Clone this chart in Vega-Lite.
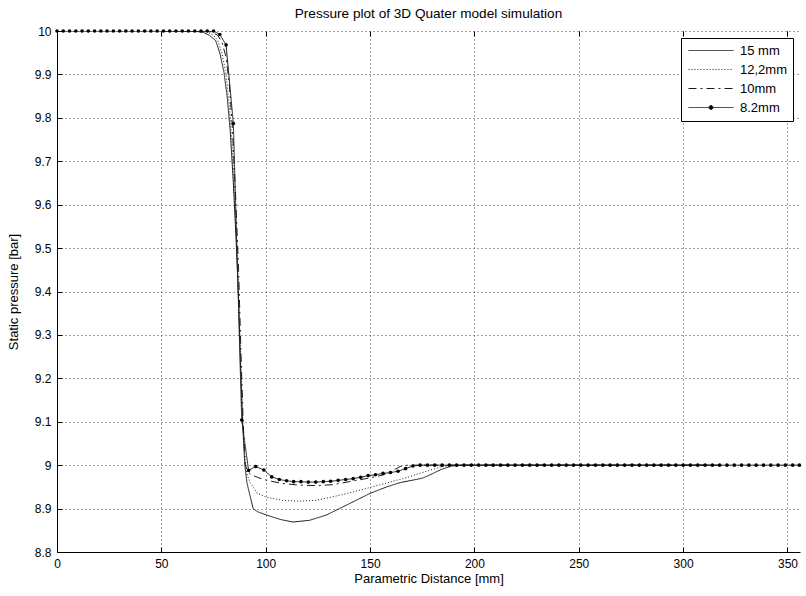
{
  "$schema": "https://vega.github.io/schema/vega-lite/v6.json",
  "autosize": {"type": "none"},
  "padding": {"left": 57, "top": 31, "right": 6, "bottom": 44},
  "width": 743,
  "height": 521,
  "background": "white",
  "title": {
    "text": "Pressure plot of 3D Quater model simulation",
    "fontSize": 13.6,
    "fontWeight": "normal",
    "font": "Liberation Sans",
    "color": "#000",
    "anchor": "middle",
    "offset": 4
  },
  "data": {
    "values": [
      {"series": "15 mm", "distance": 50, "pressure": 10},
      {"series": "15 mm", "distance": 65, "pressure": 10},
      {"series": "15 mm", "distance": 70, "pressure": 9.997},
      {"series": "15 mm", "distance": 73, "pressure": 9.99},
      {"series": "15 mm", "distance": 76, "pressure": 9.978},
      {"series": "15 mm", "distance": 78, "pressure": 9.95},
      {"series": "15 mm", "distance": 80, "pressure": 9.905},
      {"series": "15 mm", "distance": 81.5, "pressure": 9.85},
      {"series": "15 mm", "distance": 83, "pressure": 9.77},
      {"series": "15 mm", "distance": 84.5, "pressure": 9.65},
      {"series": "15 mm", "distance": 86, "pressure": 9.5},
      {"series": "15 mm", "distance": 87, "pressure": 9.38},
      {"series": "15 mm", "distance": 88, "pressure": 9.22},
      {"series": "15 mm", "distance": 89, "pressure": 9.09},
      {"series": "15 mm", "distance": 90, "pressure": 9.0},
      {"series": "15 mm", "distance": 91, "pressure": 8.96},
      {"series": "15 mm", "distance": 92.2, "pressure": 8.935},
      {"series": "15 mm", "distance": 94, "pressure": 8.9},
      {"series": "15 mm", "distance": 96, "pressure": 8.893},
      {"series": "15 mm", "distance": 100.5, "pressure": 8.885},
      {"series": "15 mm", "distance": 107, "pressure": 8.875},
      {"series": "15 mm", "distance": 113, "pressure": 8.869},
      {"series": "15 mm", "distance": 121, "pressure": 8.873},
      {"series": "15 mm", "distance": 129, "pressure": 8.885},
      {"series": "15 mm", "distance": 137, "pressure": 8.904},
      {"series": "15 mm", "distance": 145, "pressure": 8.923},
      {"series": "15 mm", "distance": 150, "pressure": 8.935},
      {"series": "15 mm", "distance": 158, "pressure": 8.95},
      {"series": "15 mm", "distance": 164.5, "pressure": 8.96},
      {"series": "15 mm", "distance": 171, "pressure": 8.966},
      {"series": "15 mm", "distance": 175, "pressure": 8.97},
      {"series": "15 mm", "distance": 178, "pressure": 8.976},
      {"series": "15 mm", "distance": 184, "pressure": 8.99},
      {"series": "15 mm", "distance": 189, "pressure": 8.998},
      {"series": "15 mm", "distance": 195, "pressure": 9.0},
      {"series": "15 mm", "distance": 317.5, "pressure": 9.0},

      {"series": "12,2mm", "distance": 50, "pressure": 10},
      {"series": "12,2mm", "distance": 68, "pressure": 10},
      {"series": "12,2mm", "distance": 72, "pressure": 9.998},
      {"series": "12,2mm", "distance": 75, "pressure": 9.99},
      {"series": "12,2mm", "distance": 77, "pressure": 9.978},
      {"series": "12,2mm", "distance": 79, "pressure": 9.95},
      {"series": "12,2mm", "distance": 81, "pressure": 9.9},
      {"series": "12,2mm", "distance": 82.5, "pressure": 9.83},
      {"series": "12,2mm", "distance": 84, "pressure": 9.73},
      {"series": "12,2mm", "distance": 85.5, "pressure": 9.58},
      {"series": "12,2mm", "distance": 86.8, "pressure": 9.42},
      {"series": "12,2mm", "distance": 88, "pressure": 9.24},
      {"series": "12,2mm", "distance": 89, "pressure": 9.1},
      {"series": "12,2mm", "distance": 90, "pressure": 9.02},
      {"series": "12,2mm", "distance": 91, "pressure": 8.98},
      {"series": "12,2mm", "distance": 92.5, "pressure": 8.96},
      {"series": "12,2mm", "distance": 96, "pressure": 8.935},
      {"series": "12,2mm", "distance": 100.5, "pressure": 8.926},
      {"series": "12,2mm", "distance": 108, "pressure": 8.919},
      {"series": "12,2mm", "distance": 116, "pressure": 8.917},
      {"series": "12,2mm", "distance": 124, "pressure": 8.919},
      {"series": "12,2mm", "distance": 132, "pressure": 8.927},
      {"series": "12,2mm", "distance": 140, "pressure": 8.936},
      {"series": "12,2mm", "distance": 148, "pressure": 8.946},
      {"series": "12,2mm", "distance": 158, "pressure": 8.959},
      {"series": "12,2mm", "distance": 168, "pressure": 8.972},
      {"series": "12,2mm", "distance": 177, "pressure": 8.986},
      {"series": "12,2mm", "distance": 184, "pressure": 8.996},
      {"series": "12,2mm", "distance": 190, "pressure": 9.0},
      {"series": "12,2mm", "distance": 317.5, "pressure": 9.0},

      {"series": "10mm", "distance": 50, "pressure": 10},
      {"series": "10mm", "distance": 70, "pressure": 10},
      {"series": "10mm", "distance": 74, "pressure": 9.998},
      {"series": "10mm", "distance": 77, "pressure": 9.99},
      {"series": "10mm", "distance": 79, "pressure": 9.975},
      {"series": "10mm", "distance": 81, "pressure": 9.94},
      {"series": "10mm", "distance": 82.5, "pressure": 9.88},
      {"series": "10mm", "distance": 84, "pressure": 9.78},
      {"series": "10mm", "distance": 85.5, "pressure": 9.63},
      {"series": "10mm", "distance": 87, "pressure": 9.45},
      {"series": "10mm", "distance": 88.2, "pressure": 9.25},
      {"series": "10mm", "distance": 89.2, "pressure": 9.1},
      {"series": "10mm", "distance": 90.2, "pressure": 9.0},
      {"series": "10mm", "distance": 91.5, "pressure": 8.985},
      {"series": "10mm", "distance": 93, "pressure": 8.978},
      {"series": "10mm", "distance": 96, "pressure": 8.972},
      {"series": "10mm", "distance": 100.5, "pressure": 8.965},
      {"series": "10mm", "distance": 108, "pressure": 8.958},
      {"series": "10mm", "distance": 116, "pressure": 8.954},
      {"series": "10mm", "distance": 124, "pressure": 8.953},
      {"series": "10mm", "distance": 132, "pressure": 8.955},
      {"series": "10mm", "distance": 140, "pressure": 8.962},
      {"series": "10mm", "distance": 148, "pressure": 8.969},
      {"series": "10mm", "distance": 156, "pressure": 8.977},
      {"series": "10mm", "distance": 161, "pressure": 8.988},
      {"series": "10mm", "distance": 164.5, "pressure": 8.997},
      {"series": "10mm", "distance": 168, "pressure": 9.0},
      {"series": "10mm", "distance": 317.5, "pressure": 9.0},

      {"series": "8.2mm", "distance": 0, "pressure": 10},
      {"series": "8.2mm", "distance": 3, "pressure": 10},
      {"series": "8.2mm", "distance": 6, "pressure": 10},
      {"series": "8.2mm", "distance": 9, "pressure": 10},
      {"series": "8.2mm", "distance": 12, "pressure": 10},
      {"series": "8.2mm", "distance": 15, "pressure": 10},
      {"series": "8.2mm", "distance": 18, "pressure": 10},
      {"series": "8.2mm", "distance": 21, "pressure": 10},
      {"series": "8.2mm", "distance": 24, "pressure": 10},
      {"series": "8.2mm", "distance": 27, "pressure": 10},
      {"series": "8.2mm", "distance": 30, "pressure": 10},
      {"series": "8.2mm", "distance": 33, "pressure": 10},
      {"series": "8.2mm", "distance": 36, "pressure": 10},
      {"series": "8.2mm", "distance": 39, "pressure": 10},
      {"series": "8.2mm", "distance": 42, "pressure": 10},
      {"series": "8.2mm", "distance": 45, "pressure": 10},
      {"series": "8.2mm", "distance": 48, "pressure": 10},
      {"series": "8.2mm", "distance": 51, "pressure": 10},
      {"series": "8.2mm", "distance": 54, "pressure": 10},
      {"series": "8.2mm", "distance": 57, "pressure": 10},
      {"series": "8.2mm", "distance": 60, "pressure": 10},
      {"series": "8.2mm", "distance": 63, "pressure": 10},
      {"series": "8.2mm", "distance": 66, "pressure": 10},
      {"series": "8.2mm", "distance": 69, "pressure": 10},
      {"series": "8.2mm", "distance": 72, "pressure": 10},
      {"series": "8.2mm", "distance": 75, "pressure": 10},
      {"series": "8.2mm", "distance": 78, "pressure": 9.992},
      {"series": "8.2mm", "distance": 81, "pressure": 9.968},
      {"series": "8.2mm", "distance": 84.5, "pressure": 9.787},
      {"series": "8.2mm", "distance": 88.5, "pressure": 9.104},
      {"series": "8.2mm", "distance": 91.8, "pressure": 8.988},
      {"series": "8.2mm", "distance": 95.2, "pressure": 8.997},
      {"series": "8.2mm", "distance": 99.1, "pressure": 8.989},
      {"series": "8.2mm", "distance": 102.9, "pressure": 8.973},
      {"series": "8.2mm", "distance": 106.5, "pressure": 8.967},
      {"series": "8.2mm", "distance": 110, "pressure": 8.964},
      {"series": "8.2mm", "distance": 113.4, "pressure": 8.962},
      {"series": "8.2mm", "distance": 116.9, "pressure": 8.962},
      {"series": "8.2mm", "distance": 120.4, "pressure": 8.961},
      {"series": "8.2mm", "distance": 124, "pressure": 8.961},
      {"series": "8.2mm", "distance": 127.6, "pressure": 8.962},
      {"series": "8.2mm", "distance": 131.1, "pressure": 8.963},
      {"series": "8.2mm", "distance": 134.7, "pressure": 8.965},
      {"series": "8.2mm", "distance": 138.3, "pressure": 8.967},
      {"series": "8.2mm", "distance": 141.9, "pressure": 8.969},
      {"series": "8.2mm", "distance": 145.5, "pressure": 8.972},
      {"series": "8.2mm", "distance": 149.1, "pressure": 8.976},
      {"series": "8.2mm", "distance": 152.6, "pressure": 8.978},
      {"series": "8.2mm", "distance": 156.2, "pressure": 8.981},
      {"series": "8.2mm", "distance": 159.8, "pressure": 8.983},
      {"series": "8.2mm", "distance": 163.4, "pressure": 8.986},
      {"series": "8.2mm", "distance": 167, "pressure": 8.992},
      {"series": "8.2mm", "distance": 170.5, "pressure": 8.998},
      {"series": "8.2mm", "distance": 174, "pressure": 9.0},
      {"series": "8.2mm", "distance": 177.5, "pressure": 9.0},
      {"series": "8.2mm", "distance": 181, "pressure": 9.0},
      {"series": "8.2mm", "distance": 184.5, "pressure": 9.0},
      {"series": "8.2mm", "distance": 188, "pressure": 9.0},
      {"series": "8.2mm", "distance": 191.5, "pressure": 9.0},
      {"series": "8.2mm", "distance": 195, "pressure": 9.0},
      {"series": "8.2mm", "distance": 198.5, "pressure": 9.0},
      {"series": "8.2mm", "distance": 202, "pressure": 9.0},
      {"series": "8.2mm", "distance": 205.5, "pressure": 9.0},
      {"series": "8.2mm", "distance": 209, "pressure": 9.0},
      {"series": "8.2mm", "distance": 212.5, "pressure": 9.0},
      {"series": "8.2mm", "distance": 216, "pressure": 9.0},
      {"series": "8.2mm", "distance": 219.5, "pressure": 9.0},
      {"series": "8.2mm", "distance": 223, "pressure": 9.0},
      {"series": "8.2mm", "distance": 226.5, "pressure": 9.0},
      {"series": "8.2mm", "distance": 230, "pressure": 9.0},
      {"series": "8.2mm", "distance": 233.5, "pressure": 9.0},
      {"series": "8.2mm", "distance": 237, "pressure": 9.0},
      {"series": "8.2mm", "distance": 240.5, "pressure": 9.0},
      {"series": "8.2mm", "distance": 244, "pressure": 9.0},
      {"series": "8.2mm", "distance": 247.5, "pressure": 9.0},
      {"series": "8.2mm", "distance": 251, "pressure": 9.0},
      {"series": "8.2mm", "distance": 254.5, "pressure": 9.0},
      {"series": "8.2mm", "distance": 258, "pressure": 9.0},
      {"series": "8.2mm", "distance": 261.5, "pressure": 9.0},
      {"series": "8.2mm", "distance": 265, "pressure": 9.0},
      {"series": "8.2mm", "distance": 268.5, "pressure": 9.0},
      {"series": "8.2mm", "distance": 272, "pressure": 9.0},
      {"series": "8.2mm", "distance": 275.5, "pressure": 9.0},
      {"series": "8.2mm", "distance": 279, "pressure": 9.0},
      {"series": "8.2mm", "distance": 282.5, "pressure": 9.0},
      {"series": "8.2mm", "distance": 286, "pressure": 9.0},
      {"series": "8.2mm", "distance": 289.5, "pressure": 9.0},
      {"series": "8.2mm", "distance": 293, "pressure": 9.0},
      {"series": "8.2mm", "distance": 296.5, "pressure": 9.0},
      {"series": "8.2mm", "distance": 300, "pressure": 9.0},
      {"series": "8.2mm", "distance": 303.5, "pressure": 9.0},
      {"series": "8.2mm", "distance": 307, "pressure": 9.0},
      {"series": "8.2mm", "distance": 310.5, "pressure": 9.0},
      {"series": "8.2mm", "distance": 314, "pressure": 9.0},
      {"series": "8.2mm", "distance": 317.5, "pressure": 9.0},
      {"series": "8.2mm", "distance": 321, "pressure": 9.0},
      {"series": "8.2mm", "distance": 324.5, "pressure": 9.0},
      {"series": "8.2mm", "distance": 328, "pressure": 9.0},
      {"series": "8.2mm", "distance": 331.5, "pressure": 9.0},
      {"series": "8.2mm", "distance": 335, "pressure": 9.0},
      {"series": "8.2mm", "distance": 338.5, "pressure": 9.0},
      {"series": "8.2mm", "distance": 342, "pressure": 9.0},
      {"series": "8.2mm", "distance": 345.5, "pressure": 9.0},
      {"series": "8.2mm", "distance": 349, "pressure": 9.0},
      {"series": "8.2mm", "distance": 352.5, "pressure": 9.0},
      {"series": "8.2mm", "distance": 355.7, "pressure": 9.0}
    ]
  },
  "encoding": {
    "x": {
      "field": "distance",
      "type": "quantitative",
      "scale": {"domain": [0, 356], "nice": false, "zero": false},
      "axis": {
        "title": "Parametric Distance [mm]",
        "values": [0, 50, 100, 150, 200, 250, 300, 350],
        "format": "d",
        "tickSize": -5,
        "labelPadding": 11,
        "titlePadding": 3,
        "labelFlush": false
      }
    },
    "y": {
      "field": "pressure",
      "type": "quantitative",
      "scale": {"domain": [8.8, 10], "nice": false, "zero": false},
      "axis": {
        "title": "Static pressure [bar]",
        "values": [8.8, 8.9, 9, 9.1, 9.2, 9.3, 9.4, 9.5, 9.6, 9.7, 9.8, 9.9, 10],
        "format": "~g",
        "tickSize": -5,
        "labelPadding": 11,
        "titlePadding": 14,
        "labelFlush": false
      }
    }
  },
  "layer": [
    {
      "mark": {"type": "line", "strokeWidth": 1, "color": "#1a1a1a", "clip": true},
      "encoding": {
        "detail": {"field": "series"},
        "order": {"field": "distance", "type": "quantitative"},
        "strokeDash": {
          "field": "series",
          "type": "nominal",
          "scale": {
            "domain": ["15 mm", "12,2mm", "10mm", "8.2mm"],
            "range": [[1, 0], [1, 2], [8, 4, 2, 4], [1, 0]]
          },
          "legend": {
            "title": null,
            "orient": "top-right",
            "offset": 7,
            "padding": 6,
            "strokeColor": "#000",
            "fillColor": "#fff",
            "symbolSize": 100,
            "symbolStrokeWidth": 1,
            "symbolStrokeColor": "#1a1a1a",
            "labelFontSize": 13,
            "labelColor": "#000",
            "labelOffset": 40,
            "rowPadding": 5,
            "encode": {
              "symbols": {
                "update": {
                  "shape": {"signal": "datum.value === '8.2mm' ? 'M-1,0H8M3.1,0A0.4,0.4 0 1,0 3.9,0A0.4,0.4 0 1,0 3.1,0Z' : 'M-1,0H8'"},
                  "fill": {"signal": "datum.value === '8.2mm' ? '#000' : 'transparent'"},
                  "stroke": {"value": "#1a1a1a"},
                  "strokeWidth": {"value": 1},
                  "strokeDash": {"scale": "strokeDash", "field": "value"}
                }
              }
            }
          }
        }
      }
    },
    {
      "transform": [{"filter": "datum.series === '8.2mm'"}],
      "mark": {"type": "point", "filled": true, "shape": "circle", "size": 13, "color": "#000", "opacity": 1},
      "encoding": {
        "x": {
          "field": "distance",
          "type": "quantitative",
          "axis": {
            "orient": "top",
            "values": [0, 50, 100, 150, 200, 250, 300, 350],
            "labels": false,
            "title": null,
            "domain": false,
            "grid": false,
            "tickSize": -5
          }
        }
      }
    }
  ],
  "resolve": {"axis": {"x": "independent"}},
  "config": {
    "font": "Liberation Sans",
    "view": {"stroke": null},
    "axis": {
      "domainColor": "#000",
      "tickColor": "#000",
      "labelColor": "#000",
      "titleColor": "#000",
      "labelFontSize": 12,
      "titleFontSize": 13,
      "titleFontWeight": "normal",
      "grid": true,
      "gridColor": "#444",
      "gridDash": [1, 3],
      "gridWidth": 1
    },
    "legend": {"labelFont": "Liberation Sans"}
  }
}
